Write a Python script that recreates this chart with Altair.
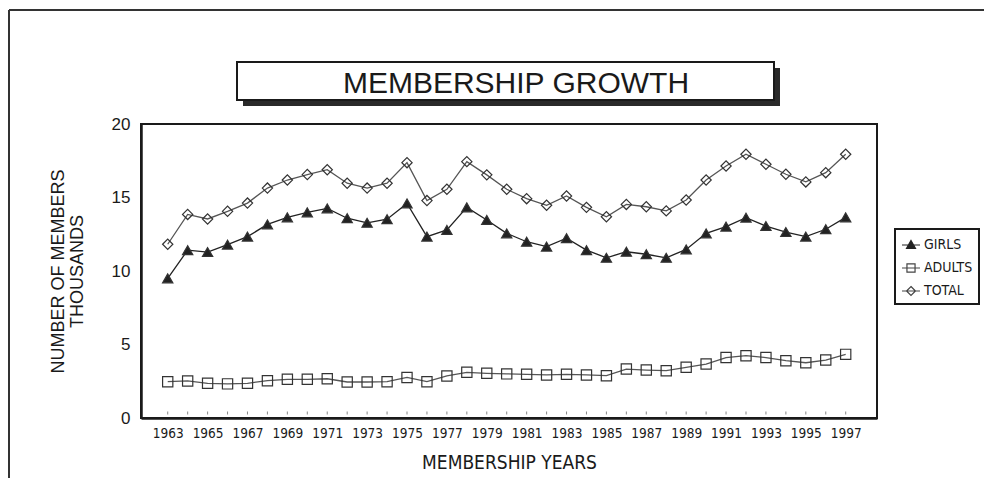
import altair as alt
import pandas as pd

# ---------------- data ----------------
YEARS = list(range(1963, 1998))
GIRLS = [9.50, 11.42, 11.29, 11.79, 12.34, 13.17, 13.65, 13.99, 14.26, 13.59,
         13.28, 13.52, 14.60, 12.34, 12.79, 14.33, 13.47, 12.56, 11.99, 11.66,
         12.23, 11.42, 10.90, 11.31, 11.14, 10.90, 11.47, 12.56, 13.02, 13.63,
         13.06, 12.65, 12.34, 12.84, 13.65]
ADULTS = [2.47, 2.52, 2.36, 2.32, 2.36, 2.54, 2.63, 2.63, 2.67, 2.45,
          2.45, 2.47, 2.76, 2.47, 2.86, 3.11, 3.04, 3.00, 2.97, 2.93,
          2.97, 2.93, 2.88, 3.33, 3.26, 3.22, 3.45, 3.67, 4.11, 4.24,
          4.11, 3.90, 3.76, 3.94, 4.33]
TOTAL = [11.82, 13.85, 13.54, 14.06, 14.62, 15.64, 16.19, 16.56, 16.89, 15.97,
         15.64, 15.97, 17.37, 14.79, 15.56, 17.44, 16.54, 15.56, 14.92, 14.47,
         15.10, 14.33, 13.69, 14.53, 14.37, 14.09, 14.83, 16.19, 17.14, 17.94,
         17.26, 16.58, 16.06, 16.69, 17.94]
SERIES = ["GIRLS", "ADULTS", "TOTAL"]
YEAR_LABELS = list(range(1963, 1998, 2))
Y_TICKS = [0, 5, 10, 15, 20]
TITLE = "MEMBERSHIP GROWTH"
X_TITLE = "MEMBERSHIP YEARS"
Y_TITLE = ["NUMBER OF MEMBERS", "THOUSANDS"]

rows = []
for name, vals in zip(SERIES, [GIRLS, ADULTS, TOTAL]):
    for yr, v in zip(YEARS, vals):
        rows.append({"year": yr, "series": name, "value": v})
df = pd.DataFrame(rows)
one = pd.DataFrame({"t": [TITLE]})
years_df = pd.DataFrame({"year": YEARS})

# ---------------- styling ----------------
W, H = 736, 294
SANS = "Liberation Sans, Arial, sans-serif"
NARROW = "Liberation Sans Narrow, DejaVu Sans Condensed, Liberation Sans, sans-serif"
INK = "#1a1a1a"

x_scale = alt.Scale(domain=[1961.66, 1998.57], nice=False, zero=False)
y_scale = alt.Scale(domain=[0, 20], nice=False)

x_enc = alt.X(
    "year:Q", scale=x_scale,
    axis=alt.Axis(values=YEAR_LABELS, format="d", ticks=False, grid=False,
                  labelOverlap=False, labelFont=NARROW, labelFontSize=13.5,
                  labelPadding=8, labelColor=INK,
                  title=X_TITLE, titleFont=NARROW, titleFontSize=19,
                  titleFontWeight="normal", titleColor=INK,
                  titleX=W / 2, titleY=50, titleBaseline="alphabetic",
                  domainColor=INK, domainWidth=2.5),
)
y_enc = alt.Y(
    "value:Q", scale=y_scale,
    axis=alt.Axis(values=Y_TICKS, ticks=False, grid=False, labelFont=SANS,
                  labelFontSize=17, labelPadding=11, labelColor=INK,
                  title=Y_TITLE, titleFont=SANS, titleFontSize=18,
                  titleFontWeight="normal", titleColor=INK, titleLineHeight=19,
                  titleAngle=270, titleAlign="center", titleBaseline="middle",
                  titleX=-83, titleY=H / 2,
                  domainColor=INK, domainWidth=2.5),
)

# decorations: outer page frame and boxed title with shadow
frame_top = alt.Chart(one).mark_rule(color="#333", strokeWidth=2).encode(
    x=alt.value(-132), x2=alt.value(850), y=alt.value(-114))
frame_left = alt.Chart(one).mark_rule(color="#333", strokeWidth=2).encode(
    x=alt.value(-132), y=alt.value(-114), y2=alt.value(360))
shadow = alt.Chart(one).mark_rect(color="#2a2a2a").encode(
    x=alt.value(102), x2=alt.value(639), y=alt.value(-56), y2=alt.value(-18))
box = alt.Chart(one).mark_rect(fill="white", stroke=INK, strokeWidth=2).encode(
    x=alt.value(96), x2=alt.value(633), y=alt.value(-62), y2=alt.value(-24))
title_text = alt.Chart(one).mark_text(
    font=SANS, fontSize=30, color=INK, align="center", baseline="middle"
).encode(x=alt.value(375), y=alt.value(-40), text="t:N")

# data layers
lines = alt.Chart(df).mark_line(strokeWidth=1.3).encode(
    x=x_enc, y=y_enc, detail="series:N",
    stroke=alt.Stroke("series:N", scale=alt.Scale(domain=SERIES, range=["#222", "#555", "#555"]),
                      legend=None),
)
ticks = alt.Chart(years_df).mark_tick(orient="vertical", size=3, thickness=1, color="#555").encode(
    x=alt.X("year:Q", scale=x_scale), y=alt.value(289))

FILLS = ["#222", "transparent", "transparent"]
points = alt.Chart(df).mark_point(filled=True, stroke="#333", strokeWidth=1.2, opacity=1, size=105).encode(
    x=x_enc, y=y_enc,
    shape=alt.Shape("series:N", scale=alt.Scale(domain=SERIES, range=["triangle-up", "square", "diamond"]),
                    legend=None),
    fill=alt.Fill("series:N", scale=alt.Scale(domain=SERIES, range=FILLS), legend=None),
)

LEG_PATHS = [
    "M-1,0H1M0,-0.5L0.5,0.38L-0.5,0.38Z",
    "M-1,0H1M-0.45,-0.45H0.45V0.45H-0.45Z",
    "M-1,0H1M0,-0.5L0.5,0L0,0.5L-0.5,0Z",
]
leg = alt.Legend(title=None, orient="none", legendX=754, legendY=105, padding=6,
                 strokeColor=INK, symbolSize=324, symbolStrokeWidth=1.2,
                 labelFont=NARROW, labelFontSize=14,
                 labelColor=INK, labelOffset=3, rowPadding=6)
legend_layer = alt.Chart(df).transform_filter("datum.value < 0").mark_point(
    filled=False, strokeWidth=1.2, opacity=1
).encode(
    x=x_enc, y=y_enc,
    shape=alt.Shape("series:N", scale=alt.Scale(domain=SERIES, range=LEG_PATHS), legend=leg),
    fill=alt.Fill("series:N", scale=alt.Scale(domain=SERIES, range=FILLS), legend=leg),
    stroke=alt.Stroke("series:N", scale=alt.Scale(domain=SERIES, range=["#222", "#444", "#444"]), legend=leg),
)

chart = alt.layer(
    frame_top, frame_left, shadow, box, title_text, lines, ticks, points, legend_layer
).resolve_scale(
    shape="independent", fill="independent", stroke="independent"
).properties(
    width=W, height=H,
    autosize=alt.AutoSizeParams(type="none"),
    padding={"left": 133, "top": 116, "right": 107, "bottom": 60},
    background="white",
).configure_view(
    stroke=INK, strokeWidth=2
).configure_legend(
    strokeWidth=2
)

chart.save("out.html", embed_options={"renderer": "svg", "actions": False})
